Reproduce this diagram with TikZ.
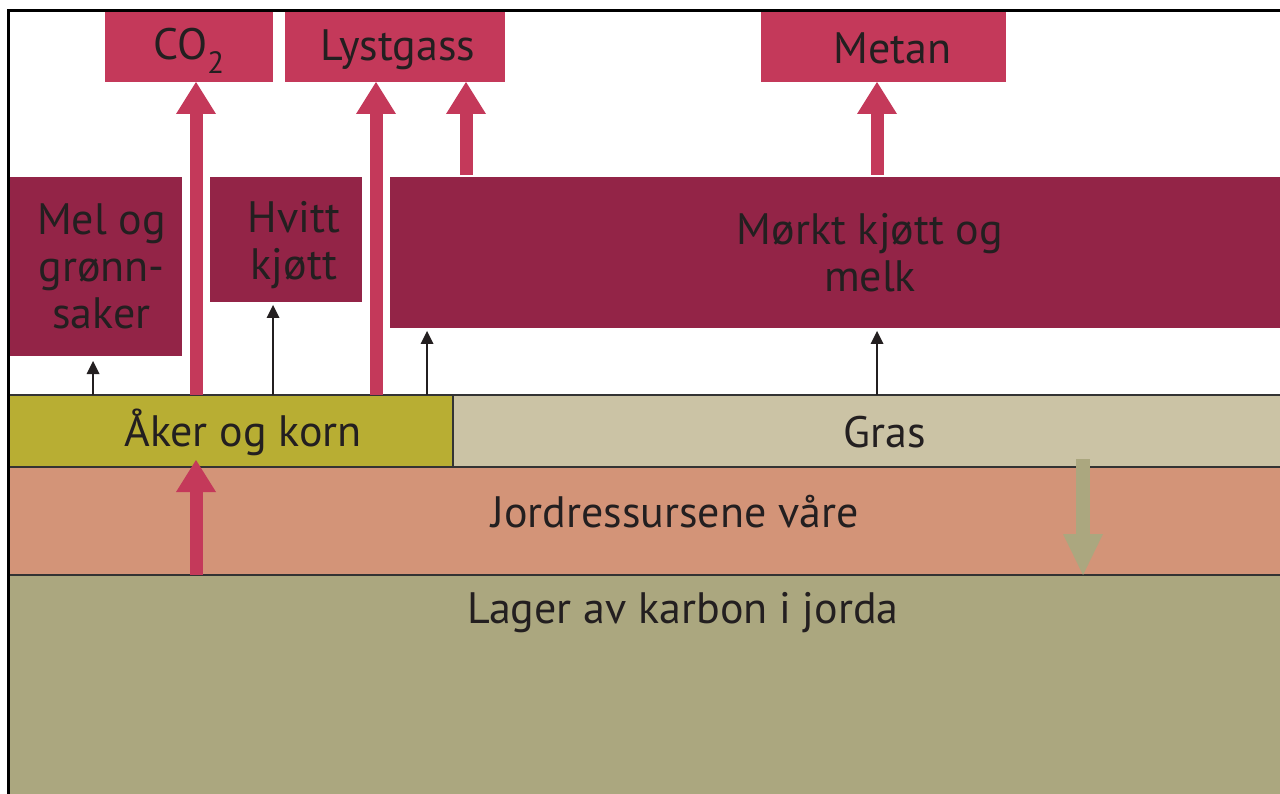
\documentclass[tikz,border=0pt]{standalone}
\usepackage{fontspec}
\setmainfont{PT Sans}
\usetikzlibrary{arrows.meta,calc}
\definecolor{pinkc}{HTML}{C4395A}
\definecolor{maroonc}{HTML}{932447}
\definecolor{akerc}{HTML}{B8AE33}
\definecolor{grasc}{HTML}{CBC3A5}
\definecolor{jordc}{HTML}{D39478}
\definecolor{lagerc}{HTML}{ABA77F}
\definecolor{txtc}{HTML}{231F20}
\definecolor{sepc}{HTML}{333333}
\tikzset{
  box/.style={anchor=north west, inner sep=0pt, outer sep=0pt, text=txtc, align=center,
    font=\fontsize{44}{47}\selectfont},
  gasbox/.style={box, fill=pinkc},
  foodbox/.style={box, fill=maroonc},
  layer/.style={box},
  lbl/.style={inner sep=0pt, text=txtc, align=center, font=\fontsize{44}{47}\selectfont},
  bigarrow/.style={draw=pinkc, line width=13pt, -{Triangle[width=40pt,length=32pt,line width=0pt]}},
  olivearrow/.style={draw=lagerc, line width=14pt, -{Triangle[width=40pt,length=41pt,line width=0pt]}},
  thinarrow/.style={draw=txtc, line width=2pt, -{Triangle[width=13pt,length=13pt,line width=0pt]}},
  sepline/.style={draw=sepc, line width=2pt},
}
\begin{document}
\begin{tikzpicture}[x=1pt,y=-1pt]
\useasboundingbox (0,0) rectangle (1280,794);
\clip (0,0) rectangle (1280,794);
\fill[white] (0,0) rectangle (1280,794);

% layers
\node[layer, fill=lagerc, minimum width=1360pt, minimum height=230pt] (lager) at (8,575) {};
\node[lbl] (lagertxt) at (683,613) {Lager av karbon i jorda};
\node[layer, fill=jordc, minimum width=1360pt, minimum height=108pt] (jord) at (8,467) {};
\node[lbl] (jordtxt) at (675,512) {Jordressursene våre};
\node[layer, fill=akerc, minimum width=445pt, minimum height=72pt] (aker) at (8,395) {};
\node[lbl] (akertxt) at (243,432) {Åker og korn};
\node[layer, fill=grasc, minimum width=864pt, minimum height=72pt] (gras) at (453,395) {};
\node[lbl] (grastxt) at (885,432) {Gras};

% separator lines
\draw[sepline] (aker.north west) -- (gras.north east);
\draw[sepline] (jord.north west) -- (jord.north east);
\draw[sepline] (lager.north west) -- (lager.north east);
\draw[sepline] (aker.north east) -- (aker.south east);

% food boxes
\node[foodbox, minimum width=173pt, minimum height=179pt,
  label={[lbl,xshift=6pt]center:{Mel og\\grønn-\\saker}}] (mel) at (9,177) {};
\node[foodbox, minimum width=152pt, minimum height=125pt,
  label={[lbl,xshift=8pt,yshift=-6pt]center:{Hvitt\\kjøtt}}] (hvitt) at (210,177) {};
\node[foodbox, minimum width=964pt, minimum height=151pt,
  label={[lbl,xshift=-2pt]center:{Mørkt kjøtt og\\melk}}] (morkt) at (390,177) {};

% gas boxes
\node[gasbox, minimum width=168pt, minimum height=70pt,
  label={[lbl,yshift=-4pt]center:{CO\textsubscript{2}}}] (co2) at (105,12) {};
\node[gasbox, minimum width=220pt, minimum height=70pt,
  label={[lbl,yshift=-3pt,xshift=3pt]center:{Lystgass}}] (lyst) at (285,12) {};
\node[gasbox, minimum width=245pt, minimum height=70pt,
  label={[lbl,xshift=9pt,yshift=-1pt]center:{Metan}}] (metan) at (761,12) {};

% thin arrows
\draw[thinarrow] (aker.north -| 93,0) -- ([yshift=-5pt]mel.south -| 93,0);
\draw[thinarrow] (aker.north -| 273,0) -- ([yshift=-3pt]hvitt.south -| 273,0);
\draw[thinarrow] (aker.north -| 427,0) -- ([yshift=-3pt]morkt.south -| 427,0);
\draw[thinarrow] (gras.north -| 877,0) -- ([yshift=-3pt]morkt.south -| 877,0);

% big pink arrows
\draw[bigarrow] (aker.north -| 196,0) -- (co2.south -| 196,0);
\draw[bigarrow] (aker.north -| 376,0) -- (lyst.south -| 376,0);
\draw[bigarrow] ([yshift=2pt]morkt.north -| 466,0) -- (lyst.south -| 466,0);
\draw[bigarrow] ([yshift=2pt]morkt.north -| 877,0) -- (metan.south -| 877,0);
\draw[bigarrow] (lager.north -| 196,0) -- ([yshift=7pt]aker.south -| 196,0);

% olive arrow
\draw[olivearrow] ([yshift=8pt]gras.south -| 1083,0) -- (lager.north -| 1083,0);

% frame
\draw[black, line width=3pt] (8,800) -- (8,11) -- (1290,11);
\end{tikzpicture}
\end{document}
